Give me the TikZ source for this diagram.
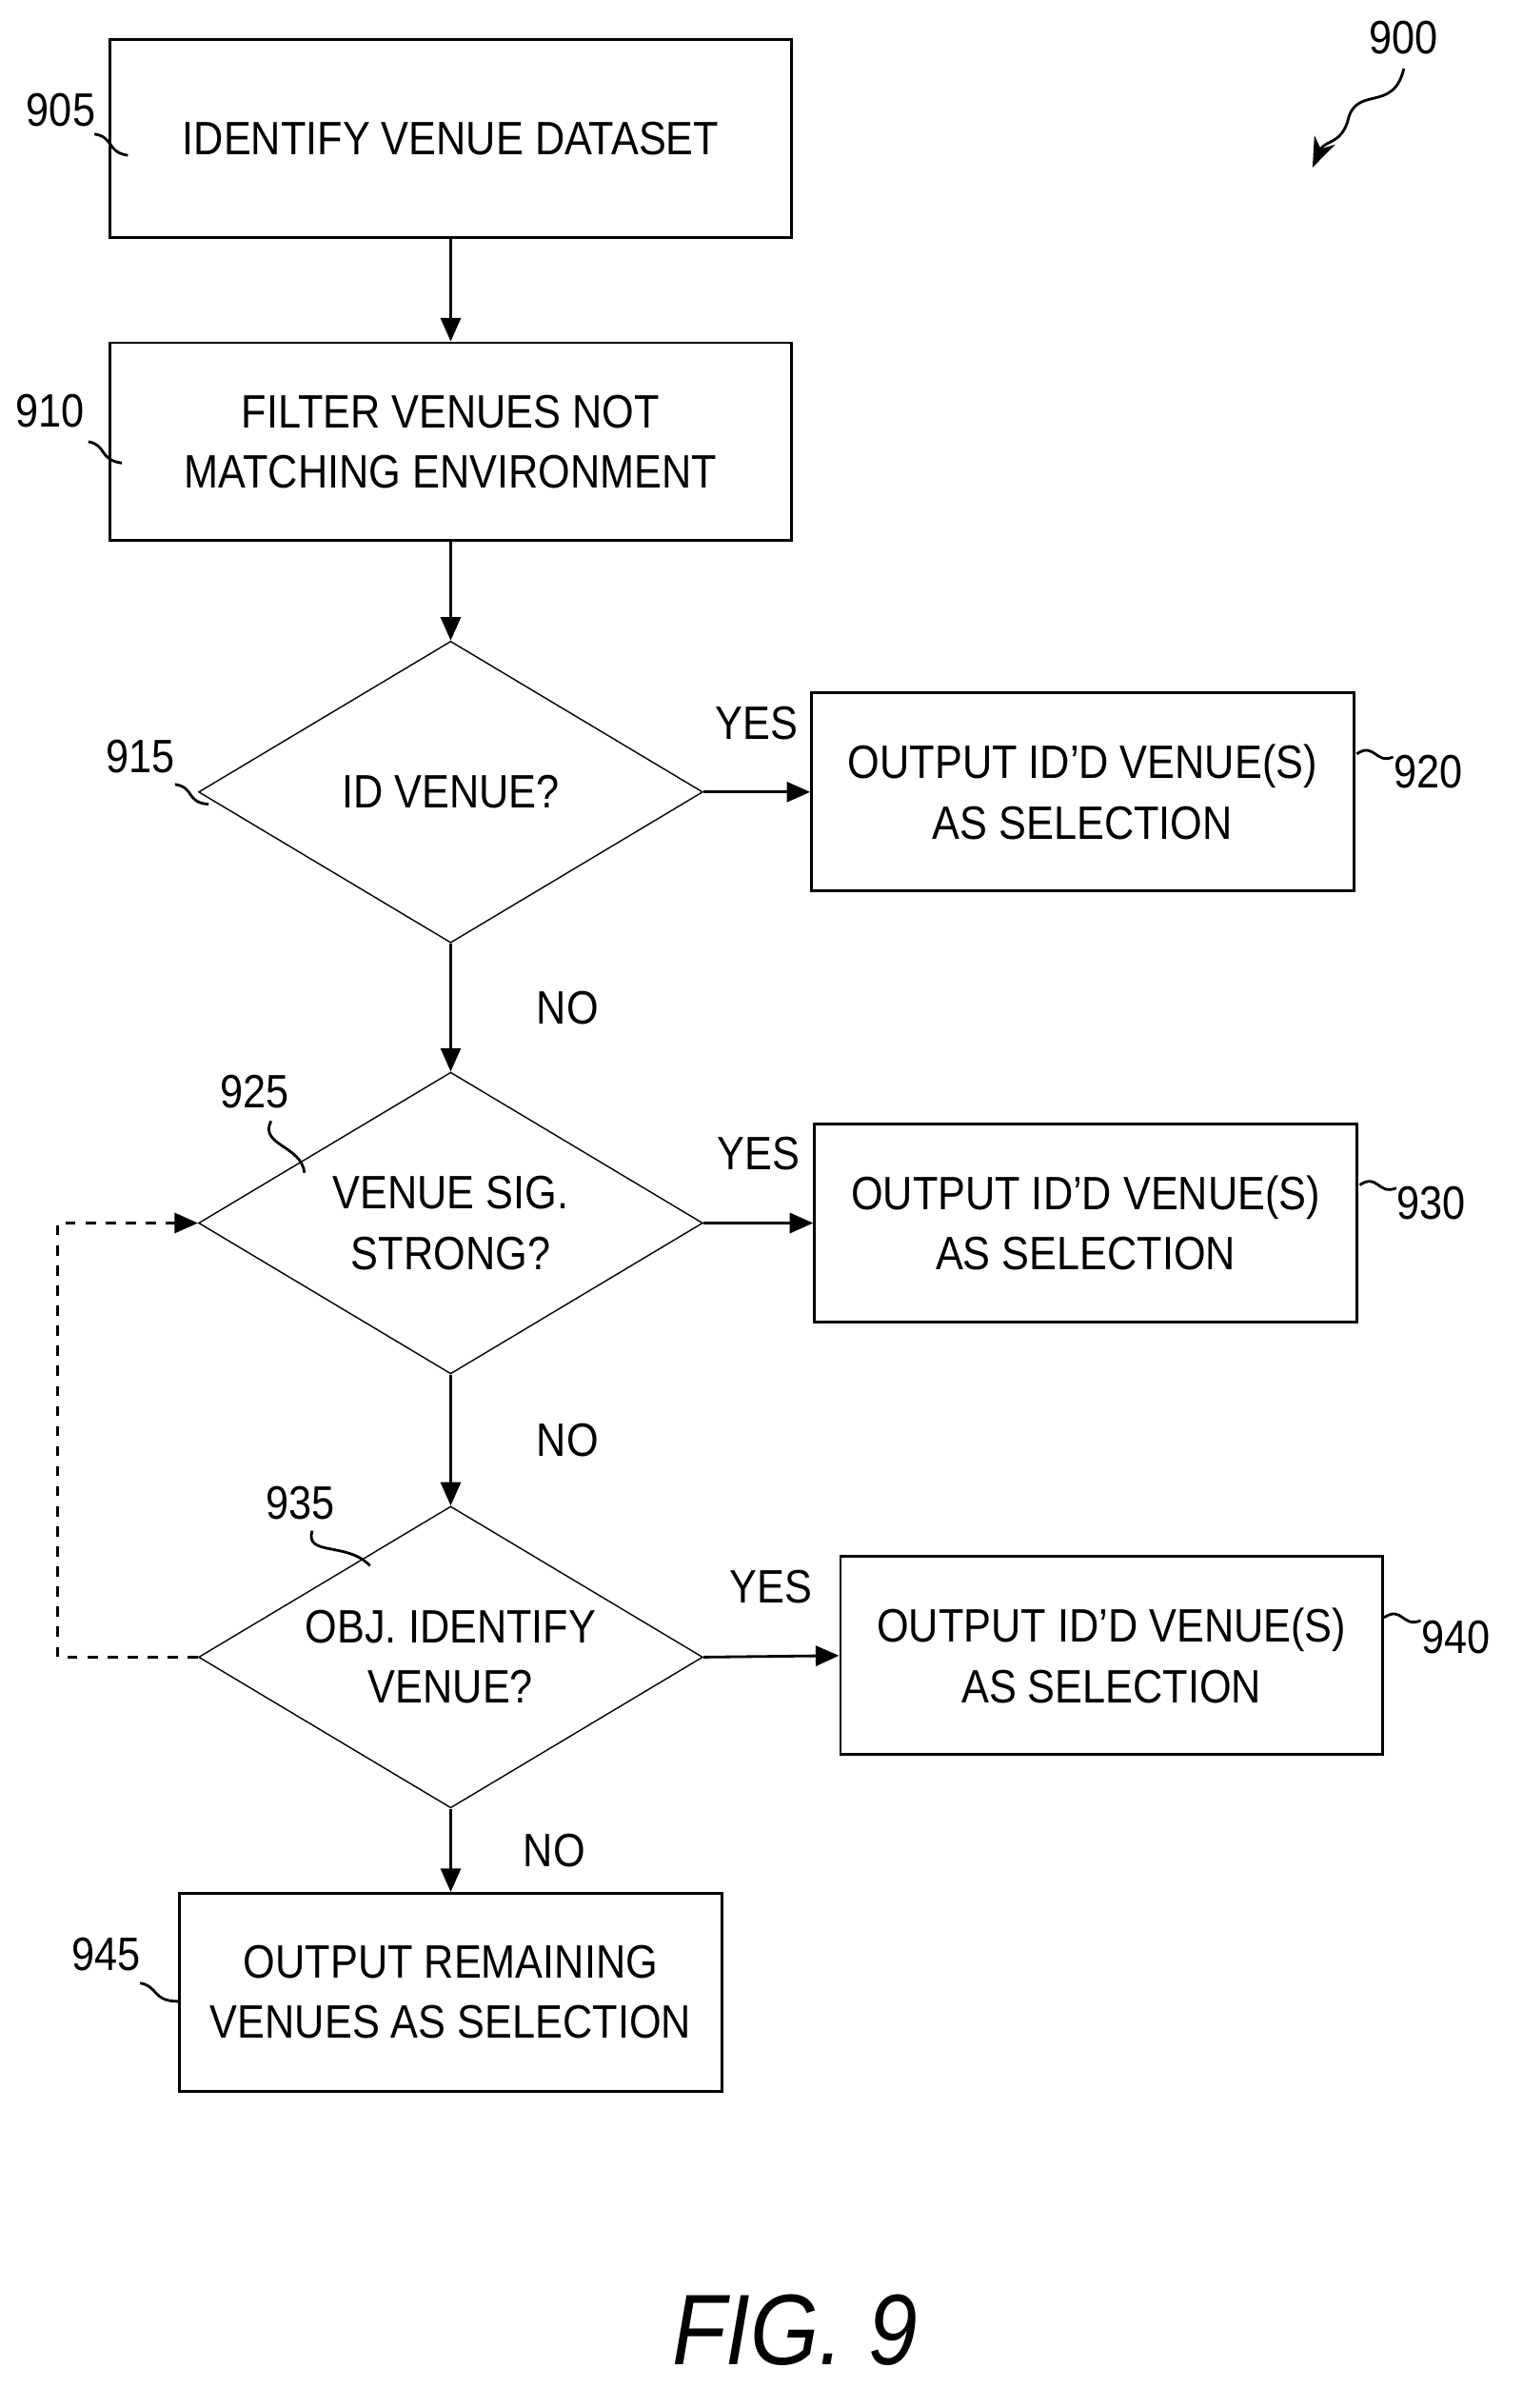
\documentclass[tikz,border=0pt]{standalone}
\usepackage{fontspec}
\setmainfont[FakeStretch=0.88]{Liberation Sans}
\usetikzlibrary{shapes.geometric,arrows.meta}

\tikzset{
    procbox/.style={draw, thick, minimum width=7.17cm, minimum height=2.08cm, align=center, font=\fontsize{14}{18}\selectfont},
    outbox/.style={draw, thick, minimum width=5.7cm, minimum height=2.08cm, align=center, font=\fontsize{14}{18}\selectfont},
    test/.style={draw, diamond, inner sep=0pt, minimum width=5.3cm, minimum height=3.17cm},
    lab/.style={font=\fontsize{14}{18}\selectfont},
    flow/.style={-{Triangle[length=7pt,width=6pt]}, thick},
}

\begin{document}
\begin{tikzpicture}[x=0.016cm, y=-0.016cm]
    \useasboundingbox (0,0) rectangle (1000,1581);

    \node [procbox] (identify) at (296,91) {IDENTIFY VENUE DATASET};
    \node [procbox] (filter) at (296,290) {FILTER VENUES NOT\\MATCHING ENVIRONMENT};
    \node [test, label={[lab, align=center]center:ID VENUE?}] (idvenue) at (296,520) {};
    \node [outbox] (out_a) at (711,520) {OUTPUT ID'D VENUE(S)\\AS SELECTION};
    \node [test, label={[lab, align=center]center:VENUE SIG.\\STRONG?}] (sigstrong) at (296,803) {};
    \node [outbox] (out_b) at (713,803) {OUTPUT ID'D VENUE(S)\\AS SELECTION};
    \node [test, label={[lab, align=center]center:OBJ. IDENTIFY\\VENUE?}] (objid) at (296,1088) {};
    \node [outbox] (out_c) at (730,1087) {OUTPUT ID'D VENUE(S)\\AS SELECTION};
    \node [outbox] (remaining) at (296,1308) {OUTPUT REMAINING\\VENUES AS SELECTION};

    \draw [flow] (identify) -- (filter);
    \draw [flow] (filter) -- (idvenue);
    \draw [flow] (idvenue) -- node [lab, right=22pt] {NO} (sigstrong);
    \draw [flow] (sigstrong) -- node [lab, right=22pt] {NO} (objid);
    \draw [flow] (objid) -- node [lab, right=18pt] {NO} (remaining);
    \draw [flow] (idvenue.east) -- node [lab, above=12pt] {YES} (out_a.west);
    \draw [flow] (sigstrong.east) -- node [lab, above=12pt] {YES} (out_b.west);
    \draw [flow] (objid.east) -- node [lab, above=12pt] {YES} (out_c.west);
    \draw [flow, dashed] (objid.west) -- (38,1088) -- (38,803) -- (sigstrong.west);

    % reference numerals
    \node [lab] (n905) at (40,72) {905};
    \draw [thick] (62,88) .. controls (75,90) and (70,100) .. (84,102);
    \node [lab] (n910) at (33,270) {910};
    \draw [thick] (58,290) .. controls (70,292) and (65,302) .. (80,304);
    \node [lab] (n915) at (92,497) {915};
    \draw [thick] (115,515) .. controls (128,517) and (122,527) .. (137,528);
    \node [lab] (n920) at (938,507) {920};
    \draw [thick] (891,495) .. controls (903,487) and (903,502) .. (915,497);
    \node [lab] (n925) at (167,717) {925};
    \draw [thick] (178,736) .. controls (170,752) and (198,752) .. (200,770);
    \node [lab] (n930) at (940,790) {930};
    \draw [thick] (893,778) .. controls (905,770) and (905,785) .. (917,780);
    \node [lab] (n935) at (197,987) {935};
    \draw [thick] (205,1005) .. controls (200,1022) and (228,1012) .. (243,1028);
    \node [lab] (n940) at (956,1075) {940};
    \draw [thick] (909,1062) .. controls (921,1054) and (921,1069) .. (933,1064);
    \node [lab] (n945) at (70,1283) {945};
    \draw [thick] (92,1302) .. controls (104,1304) and (100,1314) .. (117,1314);
    \node [lab] (n900) at (922,25) {900};
    \draw [thick, -{Stealth[length=9pt]}] (922,45) .. controls (915,75) and (890,55) .. (885,80) .. controls (880,95) and (870,92) .. (862,110);

    \node [font=\fontsize{30}{36}\selectfont\itshape] (fig) at (522,1530) {FIG. 9};
\end{tikzpicture}
\end{document}
